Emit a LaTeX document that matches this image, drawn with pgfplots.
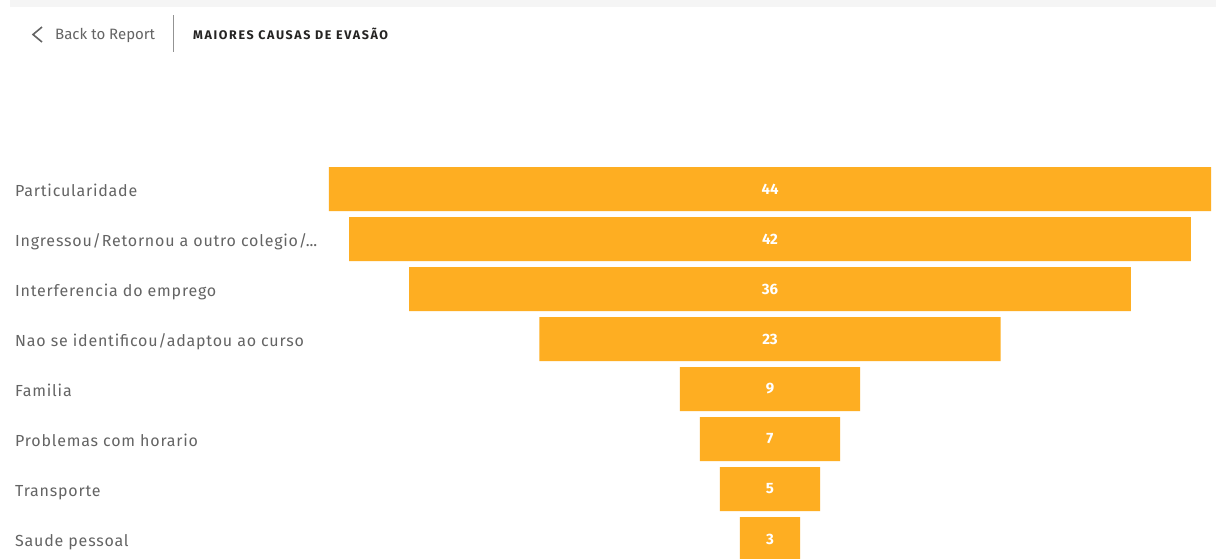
\documentclass[border=0pt]{standalone}
\usepackage{pgfplots}
\pgfplotsset{compat=1.18}
\usepackage{pgfplotstable}
\usepackage{fontspec}
\setmainfont{Fira Sans}
\definecolor{bar}{RGB}{254,174,34}
\definecolor{lab}{RGB}{100,100,100}
\definecolor{ttl}{RGB}{37,36,35}
\definecolor{strip}{RGB}{245,245,245}
\pgfplotstableread{
i v
0 44
1 42
2 36
3 23
4 9
5 7
6 5
7 3
}\funnel
\newcommand{\dotsx}{.\kern0pt.\kern0pt.}
\begin{document}
\begin{tikzpicture}[x=1pt,y=1pt]
\useasboundingbox (0,0) rectangle (1216,-558);
\fill[white] (0,0) rectangle (1216,-558);
\fill[strip] (10,0) rectangle (1216,-7);
\draw[lab,line width=1.6pt] (42,-27) -- (33,-34.5) -- (42,-42);
\node[anchor=west,text=lab,font=\fontsize{15}{17}\selectfont,inner sep=0] at (55,-35) {Back to Report};
\draw[lab!70,line width=0.8pt] (173,-15) -- (173,-52);
\node[anchor=west,text=ttl,font=\fontsize{12.5}{14}\selectfont\bfseries,inner sep=0] at (193,-34) {\addfontfeature{LetterSpace=13}MAIORES CAUSAS DE EVASÃO};
\begin{axis}[
  at={(329pt,-164pt)}, anchor=north west,
  scale only axis, width=882pt, height=394pt,
  xmin=0, xmax=44, ymin=-0.5, ymax=7.38, y dir=reverse,
  xbar stacked, bar width=44pt,
  axis line style={draw=none}, tick style={draw=none},
  major tick length=0pt, xtick=\empty,
  ytick={0,1,2,3,4,5,6,7},
  yticklabels={{Particularidade},{Ingressou/Retornou a outro colegio/\dotsx},{Interferencia do emprego},{Nao se identificou/adaptou ao curso},{Familia},{Problemas com horario},{Transporte},{Saude pessoal}},
  yticklabel style={anchor=west, xshift=-314pt, text=lab, font=\fontsize{16}{18}\selectfont\addfontfeature{LetterSpace=5}, inner sep=0pt, text height=15pt, text depth=1pt},
]
\addplot[draw=none, fill=none] table[x expr={(44-\thisrow{v})/2}, y=i] {\funnel};
\addplot[draw=none, fill=bar] table[x=v, y=i] {\funnel};
\end{axis}
\begin{axis}[
  at={(329pt,-164pt)}, anchor=north west,
  scale only axis, width=882pt, height=394pt,
  xmin=0, xmax=44, ymin=-0.5, ymax=7.38, y dir=reverse,
  hide axis,
  nodes near coords={\pgfmathprintnumber[assume math mode=true]{\pgfplotspointmeta}}, point meta=explicit,
  every node near coord/.append style={anchor=center, text=white, font=\fontsize{15}{17}\selectfont\bfseries},
]
\addplot[draw=none, mark=none, only marks] table[x expr=22, y=i, meta=v] {\funnel};
\end{axis}
\end{tikzpicture}
\end{document}
